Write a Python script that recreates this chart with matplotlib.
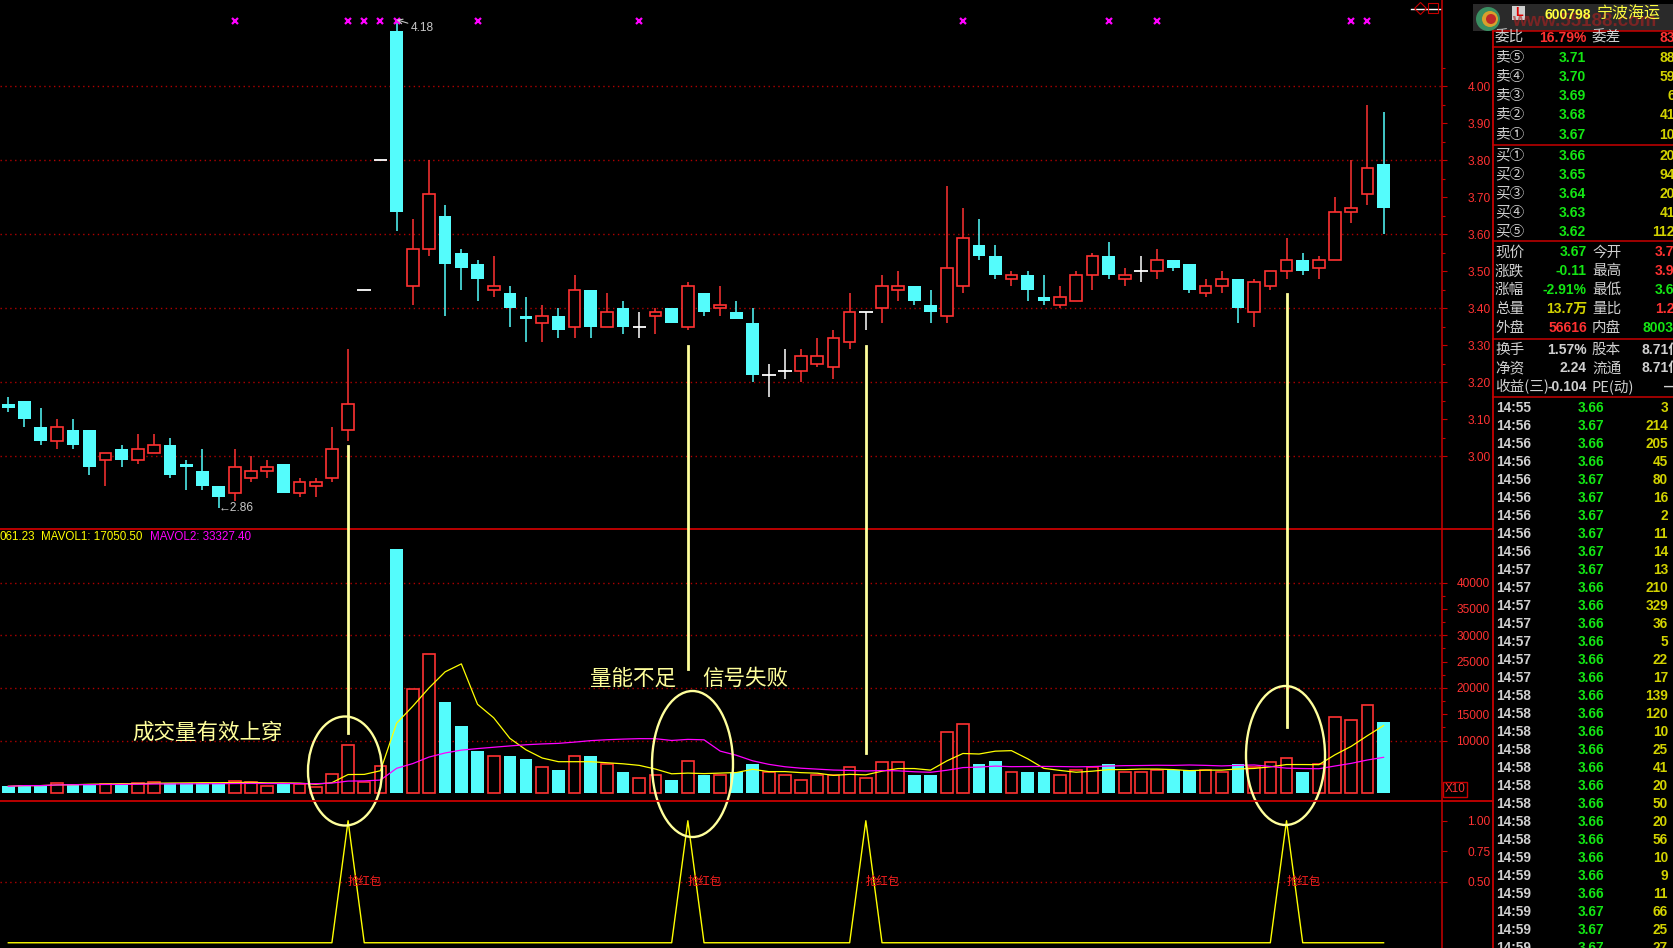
import numpy as np
import pandas as pd
import matplotlib
matplotlib.use('Agg')
import matplotlib.pyplot as plt
from matplotlib.patches import Ellipse, Rectangle, Circle

plt.rcParams['font.family'] = ['Liberation Sans', 'DejaVu Sans']
CJK = ['Noto Sans CJK SC', 'DejaVu Sans']
NUM = ['Liberation Sans', 'Noto Sans CJK SC']

# ---- daily bars of 600798, oldest first ----
opens = [3.14, 3.15, 3.08, 3.04, 3.07, 3.07, 2.99, 3.02, 2.99, 3.01,
         3.03, 2.98, 2.96, 2.92, 2.90, 2.94, 2.96, 2.98, 2.90, 2.92,
         2.94, 3.07, 3.45, 3.80, 4.15, 3.46, 3.56, 3.65, 3.55, 3.52,
         3.45, 3.44, 3.38, 3.36, 3.38, 3.35, 3.45, 3.35, 3.40, 3.35,
         3.38, 3.40, 3.35, 3.44, 3.40, 3.39, 3.36, 3.22, 3.23, 3.23,
         3.25, 3.24, 3.31, 3.39, 3.40, 3.45, 3.46, 3.41, 3.38, 3.46,
         3.57, 3.54, 3.48, 3.49, 3.43, 3.41, 3.42, 3.49, 3.54, 3.48,
         3.50, 3.50, 3.53, 3.52, 3.44, 3.46, 3.48, 3.39, 3.46, 3.50,
         3.53, 3.51, 3.53, 3.66, 3.71, 3.79]
highs = [3.16, 3.15, 3.13, 3.10, 3.10, 3.07, 3.01, 3.03, 3.06, 3.06,
         3.05, 2.99, 3.02, 2.92, 3.02, 3.00, 2.99, 2.98, 2.94, 2.94,
         3.08, 3.29, 3.45, 3.80, 4.18, 3.64, 3.80, 3.68, 3.56, 3.53,
         3.54, 3.46, 3.43, 3.41, 3.40, 3.49, 3.45, 3.44, 3.42, 3.39,
         3.40, 3.40, 3.47, 3.44, 3.46, 3.42, 3.40, 3.25, 3.29, 3.29,
         3.32, 3.34, 3.44, 3.39, 3.49, 3.50, 3.46, 3.45, 3.73, 3.67,
         3.64, 3.57, 3.50, 3.50, 3.49, 3.46, 3.50, 3.55, 3.58, 3.51,
         3.54, 3.56, 3.53, 3.52, 3.48, 3.50, 3.48, 3.48, 3.50, 3.59,
         3.55, 3.54, 3.70, 3.80, 3.95, 3.93]
lows = [3.12, 3.08, 3.03, 3.02, 3.02, 2.95, 2.92, 2.97, 2.98, 3.01,
        2.94, 2.91, 2.91, 2.86, 2.88, 2.93, 2.94, 2.90, 2.89, 2.89,
        2.93, 3.04, 3.45, 3.80, 3.61, 3.41, 3.54, 3.38, 3.45, 3.42,
        3.43, 3.35, 3.31, 3.31, 3.32, 3.32, 3.32, 3.35, 3.33, 3.32,
        3.33, 3.36, 3.34, 3.38, 3.38, 3.37, 3.20, 3.16, 3.21, 3.20,
        3.24, 3.21, 3.29, 3.34, 3.36, 3.42, 3.41, 3.36, 3.36, 3.44,
        3.53, 3.48, 3.46, 3.42, 3.41, 3.40, 3.42, 3.45, 3.48, 3.46,
        3.47, 3.48, 3.50, 3.44, 3.43, 3.44, 3.36, 3.35, 3.45, 3.48,
        3.49, 3.48, 3.53, 3.63, 3.68, 3.60]
closes = [3.13, 3.10, 3.04, 3.08, 3.03, 2.97, 3.01, 2.99, 3.02, 3.03,
          2.95, 2.97, 2.92, 2.89, 2.97, 2.96, 2.97, 2.90, 2.93, 2.93,
          3.02, 3.14, 3.45, 3.80, 3.66, 3.56, 3.71, 3.52, 3.51, 3.48,
          3.46, 3.40, 3.37, 3.38, 3.34, 3.45, 3.35, 3.39, 3.35, 3.35,
          3.39, 3.36, 3.46, 3.39, 3.41, 3.37, 3.22, 3.22, 3.23, 3.27,
          3.27, 3.32, 3.39, 3.39, 3.46, 3.46, 3.42, 3.39, 3.51, 3.59,
          3.54, 3.49, 3.49, 3.45, 3.42, 3.43, 3.49, 3.54, 3.49, 3.49,
          3.50, 3.53, 3.51, 3.45, 3.46, 3.48, 3.40, 3.47, 3.50, 3.53,
          3.50, 3.53, 3.66, 3.67, 3.78, 3.67]
volumes = [1330, 1590, 1460, 1970, 1780, 1780, 1840, 1780, 1970, 2160,
           1970, 1970, 1970, 1970, 2350, 2160, 1460, 1970, 1710, 1270,
           3680, 9190, 2090, 5200, 46370, 19820, 26530, 17410, 12740, 8000,
           7000, 7000, 6500, 5000, 4500, 7000, 7000, 5500, 4000, 3000,
           3500, 2500, 6200, 3500, 3500, 4000, 5600, 4000, 3500, 2500,
           3500, 3500, 5000, 3000, 6000, 6000, 3500, 3500, 11700, 13100,
           5500, 6200, 4000, 4000, 4000, 3500, 4500, 5000, 5500, 4000,
           4000, 4500, 4500, 4500, 4500, 4000, 5600, 5000, 6000, 6700,
           4000, 5500, 14400, 14000, 16800, 13600]

mark_days = [14, 21, 22, 23, 24, 29, 39, 59, 68, 71, 83, 84]
signal_days = [21, 42, 53, 79]
low_day, high_day = 13, 24

price_grid = [3.0, 3.2, 3.4, 3.6, 3.8, 4.0]
price_ticks = [3.0, 3.1, 3.2, 3.3, 3.4, 3.5, 3.6, 3.7, 3.8, 3.9, 4.0]
vol_grid = [10000, 20000, 30000, 40000]
vol_ticks = [10000, 15000, 20000, 25000, 30000, 35000, 40000]
sig_ticks = [0.5, 0.75, 1.0]

# ---- right hand quote panel ----
book_labels = ['卖⑤', '卖④', '卖③', '卖②', '卖①', '买①', '买②', '买③', '买④', '买⑤']
book_prices = [3.71, 3.70, 3.69, 3.68, 3.67, 3.66, 3.65, 3.64, 3.63, 3.62]
book_vols = ['88', '59', '6', '41', '10', '20', '94', '20', '41', '112']

tick_times = ['14:55'] + ['14:56'] * 8 + ['14:57'] * 7 + ['14:58'] * 9 + ['14:59'] * 6
tick_prices = [3.66, 3.67, 3.66, 3.66, 3.67, 3.67, 3.67, 3.67, 3.67,
               3.67, 3.66, 3.66, 3.66, 3.66, 3.66, 3.66,
               3.66, 3.66, 3.66, 3.66, 3.66, 3.66, 3.66, 3.66, 3.66,
               3.66, 3.66, 3.66, 3.67, 3.67, 3.67]
tick_vols = [3, 214, 205, 45, 80, 16, 2, 11, 14, 13, 210, 329, 36, 5, 22, 17,
             139, 120, 10, 25, 41, 20, 50, 20, 56, 10, 9, 11, 66, 25, 27]

W, H = 1673, 948
CYAN = '#54fcfc'
RED = '#ff3232'
AXRED = '#c80000'
GRID = '#b00000'
NOTE = '#ffff9c'
GREEN = '#14e614'
YEL = '#d2d200'
GRAY = '#d0d0d0'

stat_rows = [('现价', '3.67', GREEN, '今开', '3.7', RED),
             ('涨跌', '-0.11', GREEN, '最高', '3.9', RED),
             ('涨幅', '-2.91%', GREEN, '最低', '3.6', GREEN),
             ('总量', '13.7万', YEL, '量比', '1.2', RED),
             ('外盘', '56616', RED, '内盘', '8003', GREEN),
             ('换手', '1.57%', GRAY, '股本', '8.71亿', GRAY),
             ('净资', '2.24', GRAY, '流通', '8.71亿', GRAY),
             ('收益(三)', '-0.104', GRAY, 'PE(动)', '—', GRAY)]

fig = plt.figure(figsize=(W / 100, H / 100), dpi=100, facecolor='black')
x_lo, x_hi = -0.513, 88.61


def panel(top, bottom, ylim, pad):
    ax = fig.add_axes([0, 1 - bottom / H, 1442 / W, (bottom - top) / H])
    ax.set_facecolor('black')
    ax.set_xlim(x_lo, x_hi)
    ax.set_ylim(*ylim)
    for s in ('left', 'top', 'bottom'):
        ax.spines[s].set_visible(False)
    ax.spines['right'].set_color(AXRED)
    ax.spines['right'].set_linewidth(1.1)
    ax.set_xticks([])
    ax.yaxis.tick_right()
    ax.tick_params(axis='y', which='both', colors=AXRED, labelcolor=RED,
                   labelsize=8.6, width=0.8, pad=pad)
    ax.tick_params(axis='y', which='major', length=3.8)
    ax.tick_params(axis='y', which='minor', length=1.8)
    return ax


ax_p = panel(0, 529, (2.8035, 4.2332), 14.4)
ax_v = panel(529, 800.5, (-1367, 50183), 6.5)
ax_s = panel(800.5, 948, (-0.043, 1.166), 14.4)

x = np.arange(len(opens))
o, h, l, c = (np.array(a) for a in (opens, highs, lows, closes))
v = np.array(volumes)
up, dn, flat = c > o, c < o, c == o

# ---- price panel ----
for g in price_grid:
    ax_p.axhline(g, color=GRID, lw=1.0, ls=(0, (1, 2.5)), zorder=1)
ax_p.set_yticks(price_ticks)
ax_p.set_yticklabels(['%.2f' % t for t in price_ticks])
ax_p.set_yticks([t + 0.05 for t in price_ticks[:-1]] + [4.05], minor=True)

ax_p.vlines(x[dn], l[dn], h[dn], color=CYAN, lw=1.1, zorder=2)
ax_p.bar(x[dn], o[dn] - c[dn], 0.78, bottom=c[dn], color=CYAN, lw=0, zorder=3)
ax_p.vlines(x[up], c[up], h[up], color=RED, lw=1.1, zorder=2)
ax_p.vlines(x[up], l[up], o[up], color=RED, lw=1.1, zorder=2)
ax_p.bar(x[up], c[up] - o[up], 0.72, bottom=o[up], facecolor='black',
         edgecolor=RED, lw=1.2, zorder=3)
ax_p.vlines(x[flat], l[flat], h[flat], color='white', lw=1.1, zorder=2)
ax_p.hlines(c[flat], x[flat] - 0.42, x[flat] + 0.42, color='white', lw=1.3, zorder=3)

ax_p.plot(mark_days, [0.961] * len(mark_days), ls='none', marker='x', ms=4,
          mew=1.6, color='#ff00ff', transform=ax_p.get_xaxis_transform())
ax_p.text(low_day, lows[low_day], '←%.2f' % lows[low_day], ha='left', va='center',
          color='#c8c8c8', fontsize=8.6)
ax_p.annotate('%.2f' % highs[high_day], xy=(high_day, highs[high_day]),
              xytext=(14, -8), textcoords='offset pixels', ha='left', va='center',
              color='#c8c8c8', fontsize=8.6,
              arrowprops=dict(arrowstyle='->', color='#c8c8c8', lw=0.8,
                              shrinkA=0, shrinkB=0))

# ---- volume panel ----
for g in vol_grid:
    ax_v.axhline(g, color=GRID, lw=1.0, ls=(0, (1, 2.5)), zorder=1)
ax_v.set_yticks(vol_ticks)
ax_v.set_yticklabels([str(t) for t in vol_ticks])
ax_v.set_yticks([t + 2500 for t in vol_ticks[:-1]], minor=True)
ax_v.bar(x[dn], v[dn], 0.78, color=CYAN, lw=0, zorder=2)
ax_v.bar(x[~dn], v[~dn], 0.72, facecolor='black', edgecolor=RED, lw=1.2, zorder=2)
ma5 = pd.Series(volumes).rolling(5, min_periods=1).mean()
ma20 = pd.Series(volumes).rolling(20, min_periods=1).mean()
ax_v.plot(x, ma5, color='#ffff00', lw=0.9, zorder=4)
ax_v.plot(x, ma20, color='#ff00ff', lw=0.9, zorder=4)

# ---- signal panel ----
sig = np.zeros(len(opens))
sig[signal_days] = 1
ax_s.axhline(0.5, color=GRID, lw=1.0, ls=(0, (1, 2.5)), zorder=1)
ax_s.set_yticks(sig_ticks)
ax_s.set_yticklabels(['%.2f' % t for t in sig_ticks])
ax_s.plot(x, sig, color='#ffff00', lw=1.0, zorder=3)
for d in signal_days:
    ax_s.text(d, 0.5, '抢红包', family=CJK, fontsize=8.2, color='#ff2020',
              ha='left', va='center', zorder=4)

# ---- overlay in pixel coordinates ----
ax_o = fig.add_axes([0, 0, 1, 1], zorder=10)
ax_o.set_xlim(0, W)
ax_o.set_ylim(H, 0)
ax_o.axis('off')


def day_px(d):
    return ax_p.transData.transform((d, 3.0))[0]


for yy in (529, 800.5):
    ax_o.plot([0, 1493], [yy, yy], color=AXRED, lw=1.3)

ax_o.text(0, 537.5, '061.23', color='#ffff00', fontsize=8.4, va='center')
ax_o.text(40.7, 537.5, 'MAVOL1: 17050.50', color='#ffff00', fontsize=8.4, va='center')
ax_o.text(150, 537.5, 'MAVOL2: 33327.40', color='#ff00ff', fontsize=8.4, va='center')
ax_o.add_patch(Rectangle((1443, 782), 24, 15, fill=False, edgecolor=AXRED, lw=1))
ax_o.text(1455, 789.5, 'X10', color=RED, fontsize=8.4, ha='center', va='center')

# top-right window icons
ax_o.plot([1411, 1440], [9.3, 9.3], color='white', lw=1)
ax_o.plot([1420], [8], marker='D', ms=6, mfc='none', mec=AXRED, mew=0.8)
ax_o.plot([1433.5], [8], marker='s', ms=7, mfc='none', mec=AXRED, mew=0.8)

# hand drawn notes
note_lines = [(21, 446, 733), (42, 346, 669), (53, 346, 753), (79, 294, 727)]
for d, y0, y1 in note_lines:
    ax_o.plot([day_px(d)] * 2, [y0, y1], color=NOTE, lw=2)
for cx, cy, ew, eh in [(345, 771, 74, 109), (692.5, 764, 81, 146), (1285.5, 755.5, 79, 139)]:
    ax_o.add_patch(Ellipse((cx, cy), ew, eh, fill=False, edgecolor=NOTE, lw=1.7))
ax_o.text(132.7, 732.5, '成交量有效上穿', family=CJK, fontsize=15.5, color=NOTE,
          ha='left', va='center')
ax_o.text(590, 678.6, '量能不足', family=CJK, fontsize=15.5, color=NOTE,
          ha='left', va='center')
ax_o.text(702, 678.6, '信号失败', family=CJK, fontsize=15.5, color=NOTE,
          ha='left', va='center')

# quote panel frame
ax_o.add_patch(Rectangle((1473, 4), 200, 27, facecolor='#2a2a2a', lw=0))
ax_o.add_patch(Circle((1488, 19), 12, facecolor='#3a8f62', lw=0))
ax_o.add_patch(Circle((1490, 19), 8, facecolor='#d8a02c', lw=0))
ax_o.add_patch(Circle((1491, 19), 5, facecolor='#c02828', lw=0))
ax_o.plot([1493, 1493], [31, H], color=AXRED, lw=1.3)
for yy in (31, 46.5, 144.5, 241, 338.5, 397):
    ax_o.plot([1493, W], [yy, yy], color=AXRED, lw=1.1)
ax_o.add_patch(Rectangle((1512, 6), 13, 14, facecolor='#cfcfcf', lw=0))
ax_o.text(1518.5, 13, 'L', color='#e00000', fontsize=9, fontweight='bold',
          ha='center', va='center')
ax_o.text(1512, 21, 'www.55188.com', color='#b02020', alpha=0.6, fontsize=13.5,
          fontweight='bold', ha='left', va='center')
ax_o.text(1545, 14.5, '600798', color='#ffff40', fontsize=10, fontweight='bold',
          ha='left', va='center')
ax_o.text(1597, 14.5, '宁波海运', family=CJK, color='#ffff40', fontsize=11.5,
          ha='left', va='center')

ax_o.text(1495, 37.5, '委比', family=CJK, fontsize=10.5, color=GRAY, va='center')
ax_o.text(1587, 37.5, '16.79%', family=NUM, fontsize=10, fontweight='bold',
          color=RED, ha='right', va='center')
ax_o.text(1592, 37.5, '委差', family=CJK, fontsize=10.5, color=GRAY, va='center')
ax_o.text(1675, 37.5, '83', family=NUM, fontsize=10, fontweight='bold',
          color=RED, ha='right', va='center')

for k in range(len(book_labels)):
    yy = 58.3 + 19.05 * k + (2 if k >= 5 else 0)
    ax_o.text(1495, yy, book_labels[k], family=CJK, fontsize=10.5, color=GRAY, va='center')
    ax_o.text(1586, yy, '%.2f' % book_prices[k], family=NUM, fontsize=10,
              fontweight='bold', color=GREEN, ha='right', va='center')
    ax_o.text(1675, yy, book_vols[k], family=NUM, fontsize=10, fontweight='bold',
              color=YEL, ha='right', va='center')

stat_y = [252.3, 271.3, 290, 309, 328.3, 350, 368.3, 386.7]
stat_x2 = [1655, 1655, 1655, 1655, 1643, 1642, 1642, 1664]
for k, (la, va_, ca, lb, vb, cb) in enumerate(stat_rows):
    yy = stat_y[k]
    ax_o.text(1495, yy, la, family=CJK, fontsize=10.5, color=GRAY, va='center')
    ax_o.text(1587, yy, va_, family=NUM, fontsize=10, fontweight='bold',
              color=ca, ha='right', va='center')
    ax_o.text(1592, yy, lb, family=CJK, fontsize=10.5, color=GRAY, va='center')
    ax_o.text(stat_x2[k], yy, vb, family=NUM, fontsize=10, fontweight='bold',
              color=cb, ha='left', va='center')

for k in range(len(tick_times)):
    yy = 407.6 + 18.0 * k
    ax_o.text(1496, yy, tick_times[k], family=NUM, fontsize=9.8, fontweight='bold',
              color=GRAY, va='center')
    ax_o.text(1604, yy, '%.2f' % tick_prices[k], family=NUM, fontsize=9.8,
              fontweight='bold', color=GREEN, ha='right', va='center')
    ax_o.text(1668, yy, str(tick_vols[k]), family=NUM, fontsize=9.8,
              fontweight='bold', color=YEL, ha='right', va='center')

fig.savefig('out.png', dpi=100, facecolor='black')
